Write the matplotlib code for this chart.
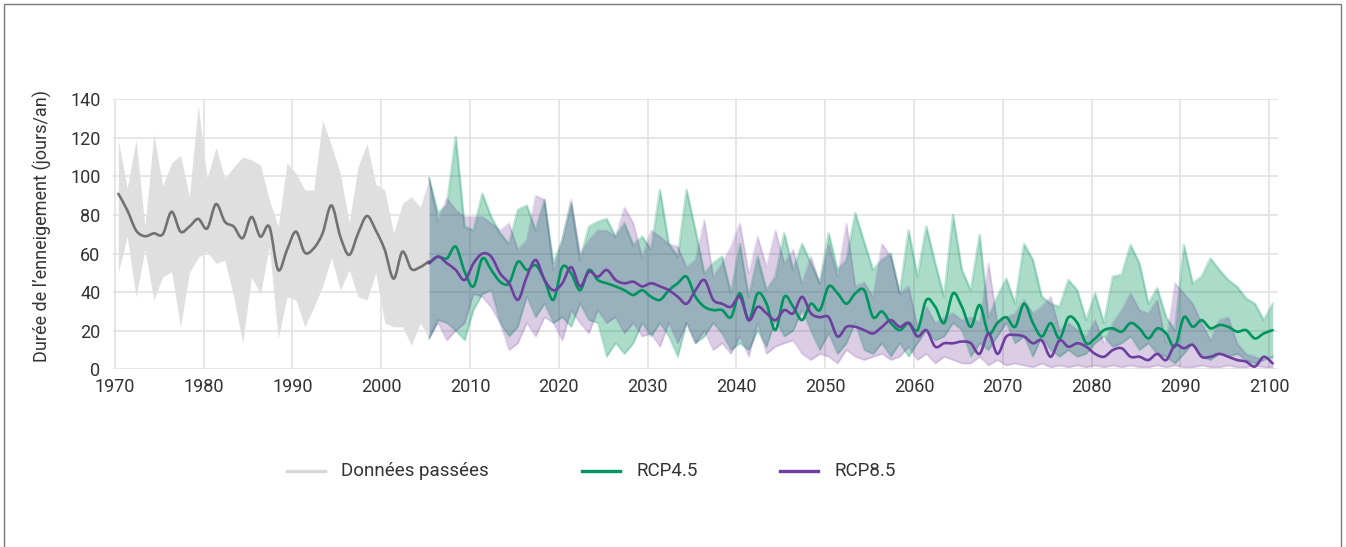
import numpy as np
import matplotlib
matplotlib.use("Agg")
import matplotlib.pyplot as plt
from matplotlib.path import Path
from matplotlib.patches import PathPatch, Rectangle
from matplotlib.lines import Line2D

# ---------------- data ----------------
hist_years = list(range(1970, 2006))
hist_mean = [91, 82.6, 72, 69, 70.5, 70, 81.7, 71.4, 74, 78, 73, 85.7, 76.5, 74, 68, 79, 68.8, 74,
             51.5, 62, 71.4, 60.5, 62.7, 70.5, 85, 68.8, 59.3, 70.5, 79.5, 72, 62, 47, 61, 52, 53, 56]
hist_upper = [119, 94, 119, 74, 122, 95, 107, 111, 89.5, 137, 99, 115, 99, 105, 110, 108.5, 106, 88,
              74, 107, 101.6, 93, 93, 129, 116, 101.6, 76, 105, 117, 96, 93, 70.5, 86, 89.5, 84, 99]
hist_lower = [50, 69, 37.6, 62, 36, 48, 50.6, 22, 50, 58, 61, 55, 56.6, 37.6, 13.5, 48, 39, 63.6,
              16, 37.6, 36, 22, 32, 43, 58, 41, 51.5, 37.6, 36, 50, 24, 22, 22, 12.6, 24, 16]

proj_years = list(range(2005, 2101))
rcp45_mean = [55, 58.4, 57.5, 63.6, 50.6, 43, 57.5, 51.5, 45.4, 44.6, 55.8, 51.5, 54, 46.3, 36, 53, 49.7, 41, 51.5, 46.3, 44.6, 43, 41, 38.5, 41,
              37.6, 36, 41, 44.6, 48, 37.6, 32.4, 30.7, 30.7, 27, 39.4, 25.5, 39.4, 34, 20.3, 37.6, 32.4, 25.5, 34, 30.7, 43, 39.4, 34, 39.4, 41,
              27, 30, 24, 20.3, 24, 20.3, 36, 32.4, 24, 39.4, 32.4, 22, 33.3, 18.6, 24, 27, 22, 34, 24, 17, 24, 16, 27, 24, 13.5,
              16, 20.3, 21.2, 19.5, 24, 21.2, 16, 21.2, 18.6, 11.7, 27, 22, 25.5, 21.2, 23, 22, 19.5, 20.3, 16, 18.6, 20.3]
rcp45_upper = [99, 81, 85, 120.6, 74, 72, 91, 79, 70.5, 65, 82.6, 85, 72, 87.8, 55, 67, 86, 56.7, 74, 76.5, 78, 68.8, 75.7, 64.4, 68.8,
               62, 93, 65, 58.4, 93, 72, 49.7, 55, 58.4, 39.4, 65, 37.6, 58.4, 41, 48, 70.5, 51.5, 65, 55, 44.6, 70.5, 51.5, 56.7, 81, 66,
               51.5, 56.7, 60, 39.4, 72, 48, 74, 55, 37.6, 80, 51.5, 41, 69.6, 27, 37.6, 47, 34, 65, 56.7, 37.6, 34, 32.4, 46.3, 41, 25.5,
               39.4, 24, 48, 49, 64.4, 55, 34, 42, 27, 20.3, 64.4, 44.6, 48, 57.5, 51.5, 46.3, 42.8, 36.8, 34, 25.5, 34]
rcp45_lower = [16, 25.5, 24, 20, 15, 30.7, 39, 41, 24, 17, 22, 37.6, 27, 34, 24, 27, 22, 34, 25.5, 24, 6.5, 13.5, 8, 13.5, 24,
               17, 24, 17, 6.5, 24, 13.5, 17, 24, 18.6, 10, 13.5, 10, 20, 11.7, 25.5, 17, 20, 30.7, 20, 10, 18.6, 8, 13.5, 24, 10,
               8, 13.5, 6.5, 13.5, 6.5, 13.5, 20.3, 15, 17, 24, 20.3, 6.5, 13.5, 10, 17, 24, 13.5, 17, 6.5, 17, 10, 6.5, 10, 6.5, 8,
               13.5, 17, 11.7, 13.5, 17, 10, 13.5, 8, 6.5, 3, 8, 13.5, 6.5, 4.8, 8, 6.5, 8, 4.8, 3, 4.8, 6.5]
rcp85_mean = [55, 58.4, 55, 51.5, 46.3, 55, 60, 58.4, 49.7, 44.6, 36, 48, 56.7, 46.3, 41, 44.6, 53, 43, 50.6, 48, 51.5, 46.3, 44.6, 45.4, 43,
              44.6, 43, 41, 37.6, 34, 41, 46.3, 36, 34, 32.4, 37.6, 25.5, 32.4, 29, 25.5, 30.7, 29, 37.6, 29, 27, 27, 17, 22, 22, 20.3,
              18.6, 22, 25.5, 22, 24, 17, 20.3, 11.7, 13.5, 13.5, 14.4, 13.5, 8, 18.6, 8, 17, 17.8, 17, 13.5, 15, 6.5, 15, 11.7, 13.5, 11.7,
              8, 6.5, 10, 10.9, 6.5, 6.5, 4.8, 8, 4.8, 12.6, 10.9, 12.6, 6.5, 6.5, 8, 6.5, 4.8, 4, 1.4, 6.5, 3]
rcp85_upper = [99, 77, 88.6, 82.6, 79, 79, 79, 75.7, 72, 75.7, 62, 67, 90, 88, 51.5, 67, 88, 60, 67, 72, 72, 68.8, 84, 75.7, 58,
               72, 68.8, 65, 63.6, 53, 56.7, 77.4, 48, 55, 63.6, 75.7, 49.7, 68.8, 53, 72, 55, 62, 44.6, 58.4, 44.6, 65, 48, 75.7, 43, 45,
               37.6, 65, 58.4, 39.4, 43, 22, 32.4, 24, 27, 29, 25.5, 27, 24, 55, 24, 27, 29, 36, 29, 32.4, 37.6, 20.3, 24, 20.3, 17,
               25.5, 13.5, 24, 30.7, 39.4, 30.7, 29, 36, 13.5, 44.6, 39.4, 34, 24, 15, 25.5, 27, 13.5, 8, 6.5, 4.8, 6.5]
rcp85_lower = [16, 24, 15, 20, 24, 39, 37.6, 32, 24, 10, 13.5, 24, 17, 27, 24, 15, 30.7, 24, 18.6, 30.7, 24, 27, 18.6, 24, 17,
               18.6, 11.7, 24, 13.5, 24, 13.5, 20, 10, 13.5, 8, 17, 6.5, 24, 8, 11.7, 13.5, 15, 8, 4.8, 8, 6.5, 3, 10, 6.5, 4.8,
               6.5, 8, 4.8, 6.5, 11.7, 4.8, 8, 3, 6.5, 4.8, 3, 3, 6.5, 2, 4.8, 2, 3, 2, 1, 3, 1, 2, 1, 2, 1,
               2, 1, 2, 1, 2, 1, 1, 2, 1, 2, 1, 1, 2, 1, 1, 2, 1, 1, 2, 1, 1]

x_ticks = list(range(1970, 2101, 10))
y_ticks = list(range(0, 141, 20))
legend_labels = ["Données passées", "RCP4.5", "RCP8.5"]
y_label = "Durée de l’enneigement (jours/an)"

# ---------------- style ----------------
plt.rcParams['font.family'] = ['Roboto', 'DejaVu Sans']
TXT = '#333333'
GRID = '#E2E2E2'
C_HIST_BAND = '#DFDFDF'
C_HIST_LINE = '#727272'
C45 = '#00955F'
C85 = '#6D3F9E'
C45_BAND = '#00955E'
C85_BAND = '#5A148C'
OFFSET = 0.4  # values plotted mid-season

W, H = 1346, 547
fig = plt.figure(figsize=(W / 100, H / 100), dpi=100)
ax = fig.add_axes([113 / W, 1 - 369.3 / H, (1278 - 113) / W, (369.3 - 99.3) / H])

hx = np.array(hist_years) + OFFSET
px = np.array(proj_years) + OFFSET


def smooth_path(x, y):
    pts = np.column_stack([x, y]).astype(float)
    n = len(pts)
    verts = [pts[0]]
    codes = [Path.MOVETO]
    for i in range(n - 1):
        p0 = pts[i - 1] if i > 0 else pts[i]
        p1 = pts[i]
        p2 = pts[i + 1]
        p3 = pts[i + 2] if i + 2 < n else pts[i + 1]
        c1 = p1 + (p2 - p0) / 6.0
        c2 = p2 - (p3 - p1) / 6.0
        verts += [c1, c2, p2]
        codes += [Path.CURVE4] * 3
    return Path(verts, codes)


# historical band
ax.fill_between(hx, hist_lower, hist_upper, color=C_HIST_BAND, lw=0, zorder=2)

# projection bands (green below, purple on top)
ax.fill_between(px, rcp45_lower, rcp45_upper, color=C45_BAND, alpha=0.33, lw=0, zorder=3)
ax.plot(px, rcp45_upper, color=C45_BAND, alpha=0.25, lw=1.8, zorder=3)
ax.plot(px, rcp45_lower, color=C45_BAND, alpha=0.2, lw=1.5, zorder=3)
ax.fill_between(px, rcp85_lower, rcp85_upper, color=C85_BAND, alpha=0.21, lw=0, zorder=4)
ax.plot(px, rcp85_upper, color=C85_BAND, alpha=0.12, lw=1.5, zorder=4)
ax.plot(px, rcp85_lower, color=C85_BAND, alpha=0.12, lw=1.5, zorder=4)

# mean lines
for x, y, c in [(hx, hist_mean, C_HIST_LINE), (px, rcp45_mean, C45), (px, rcp85_mean, C85)]:
    ax.add_patch(PathPatch(smooth_path(x, y), fill=False, ec=c, lw=1.9, zorder=6,
                           capstyle='round', joinstyle='round'))

ax.set_xlim(1969.8, 2101.0)
ax.set_ylim(0, 140)
ax.set_xticks(x_ticks)
ax.set_yticks(y_ticks)
ax.set_xticklabels([str(t) for t in x_ticks])
ax.set_yticklabels([str(t) for t in y_ticks])
ax.tick_params(length=0, labelsize=13, colors=TXT)
ax.tick_params(axis='y', pad=9)
ax.tick_params(axis='x', pad=6)
ax.grid(True, color=GRID, lw=1.2, zorder=0)
ax.set_axisbelow(True)
for s in ax.spines.values():
    s.set_visible(False)

fig.text(42 / W, 1 - 226 / H, y_label, rotation=90, ha='center', va='center',
         fontsize=13, color=TXT)

# legend
leg_y = 1 - 470.5 / H
items = [(287, 325, 341, '#D8D8D8'), (582, 620, 636, C45), (780, 818, 834, C85)]
for (x0, x1, xt, c), lab in zip(items, legend_labels):
    fig.add_artist(Line2D([x0 / W, x1 / W], [leg_y, leg_y], transform=fig.transFigure,
                          color=c, lw=2.4))
    fig.text(xt / W, leg_y, lab, ha='left', va='center', fontsize=13.5, color=TXT)

# frame
fig.add_artist(Rectangle((4 / W, -0.02), (1341 - 4) / W, (543 / H) + 0.02,
                         transform=fig.transFigure, fill=False, ec='#7A7A7A', lw=1.0))

fig.savefig('out.png', dpi=100)
